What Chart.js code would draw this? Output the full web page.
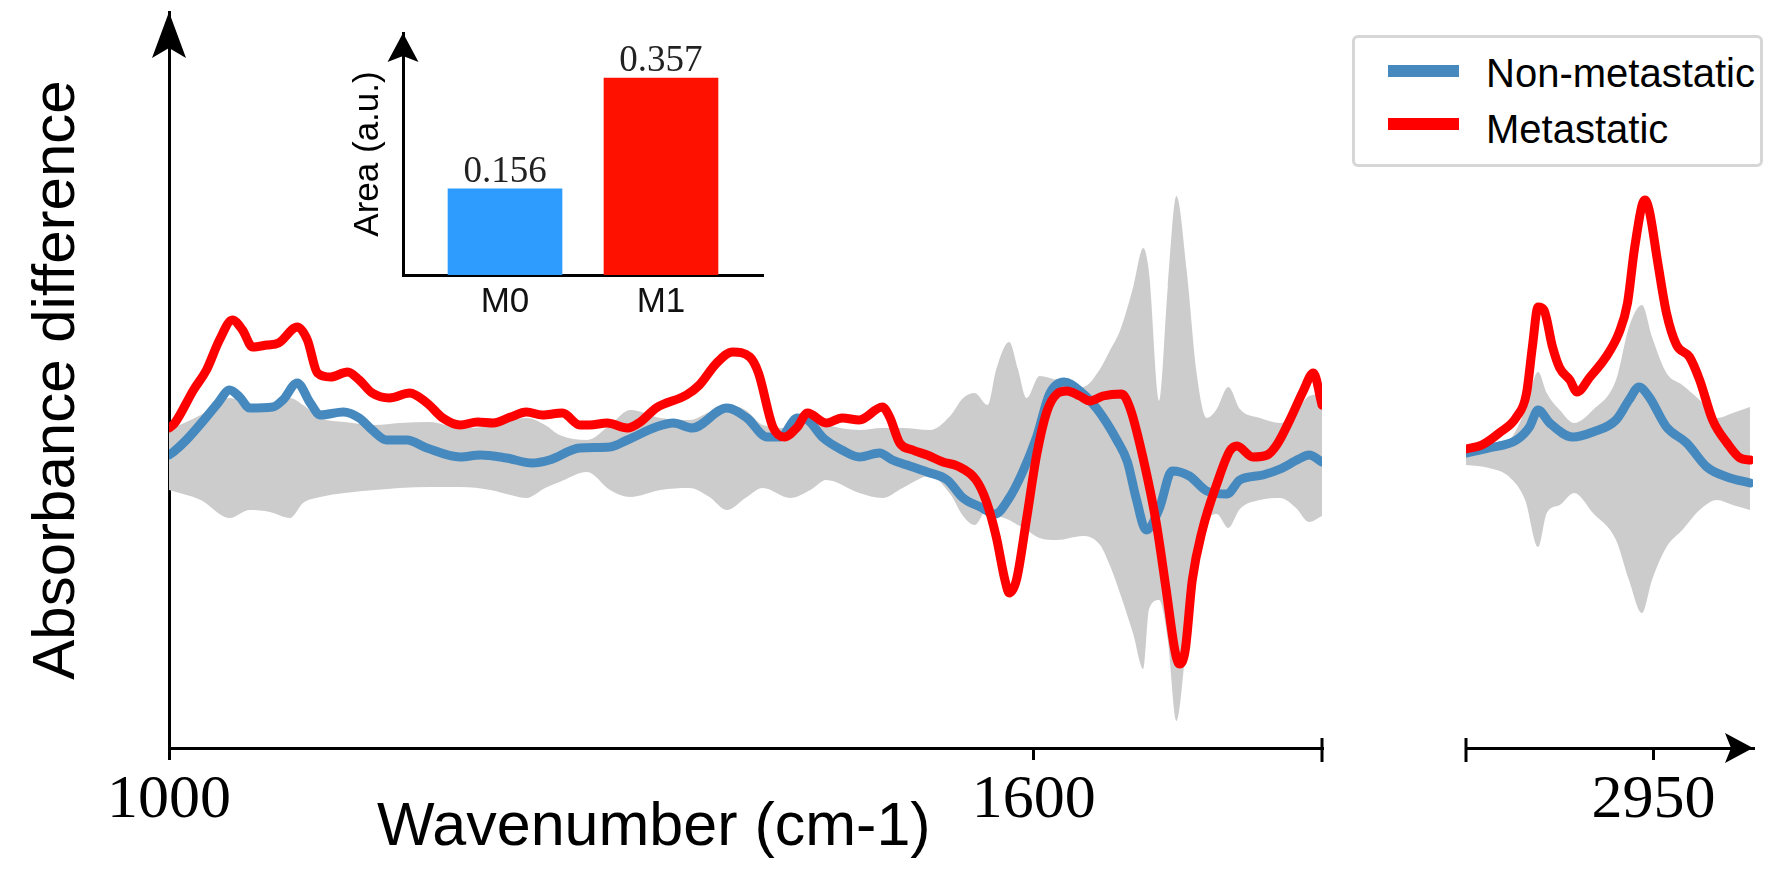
<!DOCTYPE html>
<html>
<head>
<meta charset="utf-8">
<script src="https://cdn.jsdelivr.net/npm/chart.js@4.4.1/dist/chart.umd.min.js"></script>
<style>
html,body{margin:0;padding:0;background:#fff;}
#wrap{position:relative;width:1772px;height:875px;overflow:hidden;background:#fff;}
canvas{position:absolute;}
#cMain{left:0;top:0;width:1340px;height:875px;}
#cHigh{left:1462px;top:0;width:310px;height:875px;}
#cInset{left:300px;top:0;width:480px;height:340px;}
#xTitle{position:absolute;left:377px;top:794px;font-family:'Liberation Sans',Arial,sans-serif;font-size:61px;line-height:61px;color:#000;white-space:nowrap;}
#legend{position:absolute;left:1352px;top:35px;width:411px;height:132px;box-sizing:border-box;border:3px solid #d6d6d6;border-radius:6px;background:#fff;}
#legend .sw{position:absolute;left:33px;width:71px;height:12px;}
#legend .tx{position:absolute;left:131px;font-family:'Liberation Sans',Arial,sans-serif;font-size:40px;line-height:40px;color:#000;white-space:nowrap;}
</style>
</head>
<body>
<div id="wrap">
  <canvas id="cMain" width="1340" height="875"></canvas>
  <canvas id="cHigh" width="310" height="875"></canvas>
  <canvas id="cInset" width="480" height="340"></canvas>
  <div id="xTitle"></div>
  <div id="legend"></div>
</div>
<script>
// ---------------- DATA ----------------
// Fingerprint region (1000-1800 cm-1)
const metLowX = [1000,1004,1017,1026,1035,1044,1051,1058,1068,1076,1089,1096,1103,1112,1124,1132,1141,1153,1167,1179,1190,1202,1214,1225,1237,1248,1259,1273,1285,1292,1304,1318,1327,1338,1359,1368,1380,1391,1403,1409,1419,1427,1436,1443,1456,1467,1479,1495,1500,1507,1516,1526,1537,1547,1560,1567,1574,1580,1583,1588,1595,1602,1609,1616,1623,1632,1639,1648,1661,1667,1676,1685,1692,1698,1701,1705,1710,1717,1727,1736,1741,1752,1762,1769,1778,1787,1794,1800];
const metLowY = [0.22,0.27,0.60,0.80,1.10,1.30,1.20,1.03,1.05,1.07,1.23,1.10,0.77,0.73,0.78,0.70,0.57,0.52,0.57,0.47,0.32,0.25,0.28,0.27,0.33,0.38,0.35,0.37,0.25,0.25,0.27,0.22,0.28,0.42,0.55,0.65,0.87,0.98,0.93,0.77,0.23,0.13,0.23,0.37,0.27,0.32,0.30,0.43,0.33,0.07,0.00,-0.05,-0.12,-0.16,-0.30,-0.51,-0.87,-1.30,-1.43,-1.30,-0.69,-0.05,0.38,0.56,0.59,0.54,0.49,0.54,0.56,0.41,-0.09,-0.73,-1.41,-2.01,-2.14,-2.01,-1.30,-0.80,-0.34,-0.01,0.04,-0.07,-0.05,0.06,0.31,0.59,0.77,0.45];

const nonLowX = [1000,1003,1012,1026,1034,1042,1049,1056,1072,1079,1089,1098,1105,1121,1132,1141,1151,1165,1179,1202,1216,1234,1252,1264,1285,1306,1318,1338,1350,1363,1387,1401,1415,1424,1436,1443,1454,1467,1479,1493,1502,1512,1526,1540,1551,1563,1573,1583,1592,1602,1611,1621,1632,1644,1658,1665,1671,1678,1687,1696,1708,1720,1734,1743,1759,1771,1784,1791,1800];
const nonLowY = [-0.05,-0.02,0.10,0.33,0.47,0.60,0.53,0.42,0.43,0.50,0.67,0.47,0.35,0.38,0.32,0.20,0.10,0.10,0.02,-0.07,-0.05,-0.08,-0.13,-0.10,0.02,0.03,0.10,0.23,0.27,0.22,0.42,0.32,0.13,0.13,0.32,0.30,0.12,0.00,-0.07,-0.03,-0.10,-0.15,-0.22,-0.30,-0.48,-0.57,-0.64,-0.48,-0.23,0.13,0.56,0.68,0.59,0.41,0.09,-0.12,-0.48,-0.80,-0.59,-0.21,-0.26,-0.41,-0.44,-0.30,-0.25,-0.19,-0.09,-0.05,-0.12];

const bandLowX  = [1000,1022,1042,1056,1070,1084,1093,1105,1122,1143,1160,1181,1202,1223,1237,1248,1261,1271,1290,1306,1320,1341,1361,1375,1387,1400,1412,1431,1445,1456,1479,1495,1509,1528,1542,1551,1559,1568,1574,1583,1589,1595,1604,1616,1634,1646,1653,1660,1669,1676,1680,1687,1693,1699,1706,1713,1720,1727,1735,1743,1757,1771,1782,1791,1800];
const bandLowUp = [0.20,0.35,0.52,0.45,0.45,0.52,0.45,0.32,0.28,0.25,0.27,0.28,0.22,0.24,0.30,0.32,0.25,0.15,0.10,0.25,0.40,0.32,0.30,0.38,0.45,0.40,0.25,0.22,0.30,0.25,0.20,0.22,0.22,0.20,0.34,0.52,0.57,0.45,0.81,1.08,0.81,0.52,0.74,0.70,0.63,0.81,1.00,1.20,1.63,2.02,1.77,0.49,1.63,2.54,1.81,0.77,0.32,0.41,0.63,0.41,0.32,0.27,0.38,0.54,0.56];
const bandLowDn = [-0.40,-0.50,-0.68,-0.60,-0.62,-0.68,-0.53,-0.47,-0.43,-0.40,-0.38,-0.37,-0.37,-0.40,-0.45,-0.48,-0.38,-0.32,-0.22,-0.40,-0.47,-0.40,-0.38,-0.47,-0.60,-0.48,-0.38,-0.48,-0.40,-0.30,-0.43,-0.48,-0.38,-0.26,-0.44,-0.66,-0.75,-0.59,-0.65,-0.70,-0.75,-0.80,-0.88,-0.90,-0.86,-0.95,-1.16,-1.44,-1.84,-2.19,-1.59,-1.50,-1.90,-2.71,-1.94,-1.23,-0.73,-0.64,-0.78,-0.59,-0.50,-0.48,-0.58,-0.72,-0.66];

// High wavenumber region (2820-3020 cm-1)
const metHighX = [2820,2831,2843,2855,2862,2866,2870,2874,2880,2885,2892,2897,2906,2917,2926,2932,2937,2944,2947,2953,2959,2966,2975,2982,2991,3001,3010,3017];
const metHighY = [0.01,0.05,0.17,0.33,0.57,1.03,1.43,1.40,1.03,0.82,0.70,0.58,0.73,0.93,1.17,1.47,2.03,2.50,2.40,1.87,1.37,1.05,0.93,0.70,0.30,0.07,-0.08,-0.10];

const nonHighX = [2820,2836,2855,2864,2870,2878,2894,2908,2924,2933,2940,2947,2959,2973,2987,3001,3017];
const nonHighY = [-0.03,0.02,0.10,0.23,0.40,0.27,0.13,0.18,0.30,0.50,0.63,0.53,0.23,0.07,-0.17,-0.27,-0.33];

const bandHighX  = [2820,2836,2850,2861,2870,2876,2885,2895,2908,2924,2933,2942,2949,2959,2970,2982,2994,3005,3017];
const bandHighUp = [0.00,0.04,0.10,0.40,0.78,0.57,0.40,0.27,0.40,0.70,1.23,1.45,1.13,0.77,0.65,0.50,0.32,0.37,0.43];
const bandHighDn = [-0.15,-0.18,-0.27,-0.50,-0.97,-0.63,-0.55,-0.43,-0.63,-0.90,-1.30,-1.63,-1.30,-0.97,-0.80,-0.60,-0.50,-0.55,-0.60];

// Tick labels
const lowTicks = [1000, 1600];
const highTicks = [2950];

// Inset bar chart
const insetCategories = ['M0', 'M1'];
const insetValues = [0.156, 0.357];

// Text
const seriesNames = ['Non-metastatic', 'Metastatic'];
const yTitle = 'Absorbance difference';
const xTitle = 'Wavenumber (cm-1)';
const insetTitle = 'Area (a.u.)';

// ---------------- STYLE ----------------
const BLUE = '#4689be', RED = '#ff0000', GRAY = '#cccccc';
const BAR_COLORS = ['#2e9cff', '#ff1100'];
const Y_MIN = -2.98, Y_MAX = 4.38;
const SANS = "'Liberation Sans', Arial, sans-serif";
const SERIF = "'Liberation Serif', 'Times New Roman', serif";
Chart.defaults.font.family = SANS;
Chart.defaults.color = '#000';

const pts = (xs, ys) => xs.map((x, i) => ({x: x, y: ys[i]}));

function stealth(ctx, tx, ty, dx, dy, len, half, notch) {
  const bx = tx - dx * len, by = ty - dy * len;
  const nx = tx - dx * notch, ny = ty - dy * notch;
  const px = -dy, py = dx;
  ctx.beginPath();
  ctx.moveTo(tx, ty);
  ctx.lineTo(bx + px * half, by + py * half);
  ctx.lineTo(nx, ny);
  ctx.lineTo(bx - px * half, by - py * half);
  ctx.closePath();
  ctx.fill();
}

function lineSet(label, data, color) {
  return {label: label, data: data, borderColor: color, backgroundColor: color, borderWidth: 9,
    pointRadius: 0, fill: false, cubicInterpolationMode: 'monotone', borderCapStyle: 'round', borderJoinStyle: 'round'};
}
function bandSet(data, fill) {
  return {label: '_band', data: data, borderWidth: 0, borderColor: 'rgba(0,0,0,0)', backgroundColor: GRAY,
    pointRadius: 0, fill: fill, cubicInterpolationMode: 'monotone', isBand: true};
}

function xAxis(min, max, ticks, height) {
  return {
    type: 'linear', min: min, max: max,
    afterBuildTicks: s => { s.ticks = ticks.map(v => ({value: v})); },
    ticks: {callback: v => String(v), font: {family: SERIF, size: 62}, color: '#000', padding: 4, maxRotation: 0, autoSkip: false},
    grid: {display: true, drawOnChartArea: false, drawTicks: true, tickLength: 12, lineWidth: 3, color: '#000'},
    border: {display: true, color: '#000', width: 3},
    afterFit: s => { s.height = height; }
  };
}

// ---------------- MAIN CHART ----------------
const mainDecor = {
  id: 'mainDecor',
  afterDraw(chart) {
    const ctx = chart.ctx, a = chart.chartArea;
    ctx.save();
    ctx.fillStyle = '#000'; ctx.strokeStyle = '#000'; ctx.lineWidth = 3;
    stealth(ctx, a.left, a.top, 0, -1, 46, 17, 36);
    ctx.beginPath(); ctx.moveTo(a.right, a.bottom - 10); ctx.lineTo(a.right, a.bottom + 14); ctx.stroke();
    ctx.restore();
  }
};

const mainChart = new Chart(document.getElementById('cMain'), {
  type: 'line',
  data: {datasets: [
    Object.assign(lineSet(seriesNames[1], pts(metLowX, metLowY), RED), {order: 0}),
    Object.assign(lineSet(seriesNames[0], pts(nonLowX, nonLowY), BLUE), {order: 1}),
    Object.assign(bandSet(pts(bandLowX, bandLowUp), 3), {order: 2}),
    Object.assign(bandSet(pts(bandLowX, bandLowDn), false), {order: 3})
  ]},
  options: {
    responsive: false, animation: false, parsing: true,
    layout: {padding: {left: 0, top: 12, right: 18, bottom: 0}},
    plugins: {legend: {display: false}, tooltip: {enabled: false}, filler: {drawTime: 'beforeDatasetsDraw', propagate: false}},
    scales: {
      x: xAxis(1000, 1800, lowTicks, 127),
      y: {
        type: 'linear', min: Y_MIN, max: Y_MAX,
        ticks: {display: false}, grid: {display: false},
        border: {display: true, color: '#000', width: 3},
        title: {display: true, text: yTitle, font: {family: SANS, size: 60}, color: '#000', padding: {top: 21, bottom: 0}},
        afterFit: s => { s.width = 169; }
      }
    }
  },
  plugins: [mainDecor]
});

// ---------------- HIGH-WAVENUMBER CHART ----------------
const highDecor = {
  id: 'highDecor',
  afterDraw(chart) {
    const ctx = chart.ctx, a = chart.chartArea;
    ctx.save();
    ctx.fillStyle = '#000'; ctx.strokeStyle = '#000'; ctx.lineWidth = 3;
    ctx.beginPath(); ctx.moveTo(a.left, a.bottom - 10); ctx.lineTo(a.left, a.bottom + 14); ctx.stroke();
    stealth(ctx, a.right, a.bottom, 1, 0, 28, 15, 22);
    ctx.restore();
  }
};

const highChart = new Chart(document.getElementById('cHigh'), {
  type: 'line',
  data: {datasets: [
    Object.assign(lineSet(seriesNames[1], pts(metHighX, metHighY), RED), {order: 0}),
    Object.assign(lineSet(seriesNames[0], pts(nonHighX, nonHighY), BLUE), {order: 1}),
    Object.assign(bandSet(pts(bandHighX, bandHighUp), 3), {order: 2}),
    Object.assign(bandSet(pts(bandHighX, bandHighDn), false), {order: 3})
  ]},
  options: {
    responsive: false, animation: false,
    layout: {padding: {left: 4, top: 12, right: 19, bottom: 0}},
    plugins: {legend: {display: false}, tooltip: {enabled: false}, filler: {drawTime: 'beforeDatasetsDraw', propagate: false}},
    scales: {
      x: xAxis(2820, 3019, highTicks, 127),
      y: {type: 'linear', min: Y_MIN, max: Y_MAX, display: false}
    }
  },
  plugins: [highDecor]
});

// ---------------- INSET BAR CHART ----------------
const insetDecor = {
  id: 'insetDecor',
  afterDraw(chart) {
    const ctx = chart.ctx, a = chart.chartArea;
    ctx.save();
    ctx.fillStyle = '#000';
    stealth(ctx, a.left, a.top, 0, -1, 29, 15.5, 23);
    const meta = chart.getDatasetMeta(0);
    ctx.font = '37px ' + SERIF; ctx.fillStyle = '#222';
    ctx.textAlign = 'center'; ctx.textBaseline = 'alphabetic';
    meta.data.forEach((el, i) => { ctx.fillText(insetValues[i].toFixed(3), el.x, el.y - 7); });
    ctx.restore();
  }
};

const insetChart = new Chart(document.getElementById('cInset'), {
  type: 'bar',
  data: {datasets: [{
    label: insetTitle,
    data: insetValues.map((v, i) => ({x: i, y: v})),
    backgroundColor: BAR_COLORS, borderWidth: 0, barThickness: 114
  }]},
  options: {
    responsive: false, animation: false,
    layout: {padding: {left: 0, top: 33, right: 17, bottom: 0}},
    plugins: {legend: {display: false}, tooltip: {enabled: false}},
    scales: {
      x: {
        type: 'linear', min: -0.654, max: 1.654, offset: false,
        afterBuildTicks: s => { s.ticks = insetCategories.map((c, i) => ({value: i})); },
        ticks: {callback: v => insetCategories[v], font: {family: SANS, size: 35}, color: '#111', padding: 6, maxRotation: 0, autoSkip: false},
        grid: {display: false, drawTicks: false},
        border: {display: true, color: '#000', width: 3},
        afterFit: s => { s.height = 65; }
      },
      y: {
        type: 'linear', min: 0, max: 0.4386,
        ticks: {display: false}, grid: {display: false, drawTicks: false},
        border: {display: true, color: '#000', width: 3},
        title: {display: true, text: insetTitle, font: {family: SANS, size: 35}, color: '#000', padding: {top: 47, bottom: 0}},
        afterFit: s => { s.width = 103; }
      }
    }
  },
  plugins: [insetDecor]
});

// ---------------- TEXT / LEGEND ----------------
document.getElementById('xTitle').textContent = xTitle;

const legendEl = document.getElementById('legend');
const legendTops = {sw: [27, 80], tx: [15, 71]};
seriesNames.forEach((name, i) => {
  const ds = mainChart.data.datasets.find(d => d.label === name);
  const sw = document.createElement('div');
  sw.className = 'sw'; sw.style.top = legendTops.sw[i] + 'px'; sw.style.background = ds.borderColor;
  const tx = document.createElement('div');
  tx.className = 'tx'; tx.style.top = legendTops.tx[i] + 'px'; tx.textContent = ds.label;
  legendEl.appendChild(sw); legendEl.appendChild(tx);
});
</script>
</body>
</html>
